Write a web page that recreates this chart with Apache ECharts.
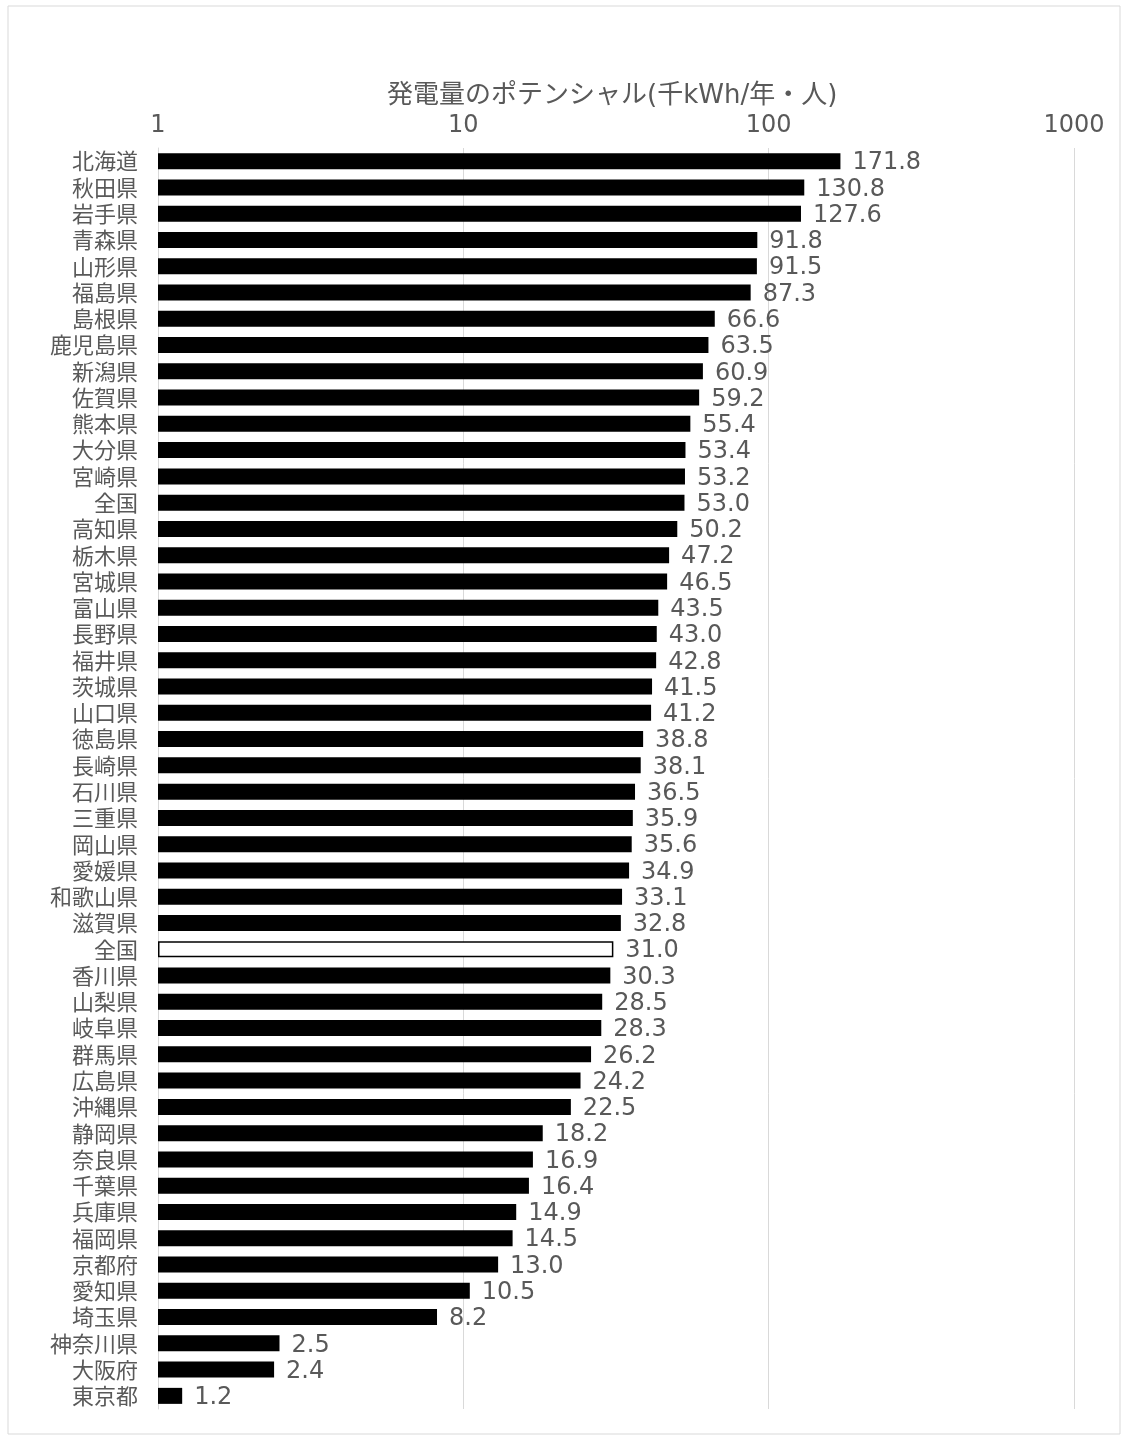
<!DOCTYPE html>
<html><head><meta charset="utf-8">
<script src="https://cdn.jsdelivr.net/npm/echarts@6/dist/echarts.min.js"></script>
<style>html,body{margin:0;padding:0;background:#fff;}#c{width:1126px;height:1439px;}</style>
</head><body><div id="c"></div>
<script>
const categories = ["北海道","秋田県","岩手県","青森県","山形県","福島県","島根県","鹿児島県","新潟県","佐賀県","熊本県","大分県","宮崎県","全国","高知県","栃木県","宮城県","富山県","長野県","福井県","茨城県","山口県","徳島県","長崎県","石川県","三重県","岡山県","愛媛県","和歌山県","滋賀県","全国","香川県","山梨県","岐阜県","群馬県","広島県","沖縄県","静岡県","奈良県","千葉県","兵庫県","福岡県","京都府","愛知県","埼玉県","神奈川県","大阪府","東京都"];
const values = [171.8,130.8,127.6,91.8,91.5,87.3,66.6,63.5,60.9,59.2,55.4,53.4,53.2,53.0,50.2,47.2,46.5,43.5,43.0,42.8,41.5,41.2,38.8,38.1,36.5,35.9,35.6,34.9,33.1,32.8,31.0,30.3,28.5,28.3,26.2,24.2,22.5,18.2,16.9,16.4,14.9,14.5,13.0,10.5,8.2,2.5,2.4,1.2];
const highlightIndex = 30;
const titleText = "発電量のポテンシャル(千kWh/年・人)";

const cjk = '"Noto Sans CJK JP","Noto Sans",sans-serif';
const mixed = '"DejaVu Sans","Noto Sans CJK JP",sans-serif';
const chart = echarts.init(document.getElementById('c'));
const seriesData = values.map((v,i)=> i===highlightIndex
  ? {value:v, itemStyle:{color:'#ffffff', borderColor:'#000000', borderWidth:1.5}}
  : {value:v});
chart.setOption({
  animation:false,
  backgroundColor:'#ffffff',
  title:{text:titleText,left:382,top:78,textStyle:{fontFamily:mixed,fontSize:26,fontWeight:'normal',color:'#595959'}},
  graphic:[{type:'rect',shape:{x:8,y:6,width:1112,height:1428},style:{fill:'none',stroke:'#d9d9d9',lineWidth:1}}],
  grid:{left:158,right:52,top:148,bottom:30,containLabel:false},
  xAxis:{type:'log',logBase:10,min:1,max:1000,position:'top',
    axisLine:{show:false},axisTick:{show:false},
    axisLabel:{fontFamily:mixed,fontSize:24,color:'#595959',margin:10,formatter:v=>String(Math.round(v))},
    splitLine:{show:true,lineStyle:{color:'#d9d9d9',width:1}}},
  yAxis:{type:'category',inverse:true,data:categories.map((c,i)=>i),
    axisLine:{show:true,lineStyle:{color:'#d9d9d9'}},axisTick:{show:false},
    axisLabel:{interval:0,hideOverlap:false,fontFamily:cjk,fontSize:22,color:'#595959',margin:20,formatter:(v,i)=>categories[i]}},
  series:[{type:'bar',data:seriesData,barWidth:16,itemStyle:{color:'#000000'},
    label:{show:true,position:'right',distance:12,offset:[0,2],fontFamily:mixed,fontSize:24,color:'#595959',
      formatter:p=>p.value.toFixed(1)}}]
});
</script></body></html>
